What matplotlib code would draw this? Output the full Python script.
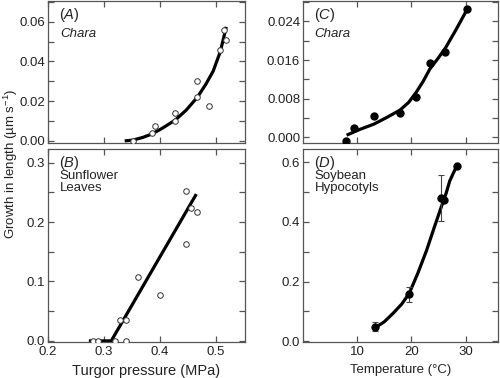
import matplotlib
matplotlib.use("Agg")
import matplotlib.pyplot as plt
from matplotlib.ticker import MultipleLocator, FixedLocator, FormatStrFormatter

plt.rcParams["font.family"] = ["Liberation Sans", "DejaVu Sans"]
plt.rcParams["mathtext.fontset"] = "custom"
plt.rcParams["mathtext.rm"] = "Liberation Sans"
plt.rcParams["mathtext.it"] = "Liberation Sans:italic"

# (A) Chara, growth vs turgor pressure
a_p = [0.352, 0.386, 0.391, 0.4275, 0.4275, 0.467, 0.467, 0.4875, 0.508, 0.514, 0.5185]
a_g = [0.000, 0.004, 0.0074, 0.014, 0.010, 0.030, 0.022, 0.0178, 0.0455, 0.056, 0.051]
a_fit_p = [0.337, 0.352, 0.370, 0.386, 0.405, 0.4275, 0.447, 0.467, 0.482, 0.495, 0.508, 0.5185]
a_fit_g = [0.000, 0.0004, 0.0018, 0.0035, 0.0065, 0.0105, 0.0155, 0.022, 0.0285, 0.035, 0.045, 0.0574]

# (B) Sunflower leaves
b_p = [0.280, 0.290, 0.319, 0.339, 0.329, 0.339, 0.3605, 0.3994, 0.446, 0.446, 0.455, 0.4667]
b_g = [0.0, 0.0, 0.0, 0.0, 0.035, 0.035, 0.108, 0.078, 0.253, 0.1625, 0.224, 0.2175]
b_fit_p = [0.273, 0.313, 0.465]
b_fit_g = [0.0, 0.0, 0.247]

# (C) Chara, growth vs temperature
c_t = [7.9, 9.45, 13.1, 17.9, 20.8, 23.4, 26.3, 30.2]
c_g = [-0.0009, 0.0019, 0.00435, 0.0050, 0.0084, 0.0154, 0.0176, 0.0265]
c_fit_t = [8.05, 10.5, 13.1, 15.5, 17.9, 19.5, 20.9, 22.2, 23.4, 24.9, 26.3, 28.2, 30.2]
c_fit_g = [0.0004, 0.0016, 0.0027, 0.0041, 0.0056, 0.0072, 0.0093, 0.0116, 0.0141, 0.0163, 0.0185, 0.0222, 0.0263]

# (D) Soybean hypocotyls
d_t = [13.3, 19.6, 25.5, 26.0, 28.4]
d_g = [0.048, 0.157, 0.480, 0.475, 0.589]
d_err = [0.015, 0.025, 0.076, 0.0, 0.0]
d_fit_t = [13.3, 15.0, 16.6, 18.2, 19.6, 21.2, 22.8, 24.2, 25.5, 26.4, 27.1, 28.4]
d_fit_g = [0.045, 0.065, 0.093, 0.124, 0.160, 0.228, 0.304, 0.380, 0.449, 0.495, 0.538, 0.589]

temp_ticks = [10, 20, 30]

fig = plt.figure(figsize=(5.0, 3.78), dpi=100)
axA = fig.add_axes([0.096, 0.622, 0.394, 0.376])
axB = fig.add_axes([0.096, 0.095, 0.394, 0.511])
axC = fig.add_axes([0.606, 0.622, 0.390, 0.376])
axD = fig.add_axes([0.606, 0.095, 0.390, 0.511])

line_kw = dict(color="black", lw=2.3, solid_capstyle="butt", zorder=2)
open_kw = dict(ls="none", marker="o", ms=4, mfc="white", mec="#333333", mew=0.7, zorder=3)
fill_kw = dict(ls="none", marker="o", ms=5, mfc="black", mec="black", zorder=3)

axA.plot(a_fit_p, a_fit_g, **line_kw)
axA.plot(a_p, a_g, **open_kw)
axB.plot(b_fit_p, b_fit_g, **line_kw)
axB.plot(b_p, b_g, **open_kw)
axC.plot(c_fit_t, c_fit_g, **line_kw)
axC.plot(c_t, c_g, **fill_kw)
axD.plot(d_fit_t, d_fit_g, **line_kw)
axD.errorbar(d_t, d_g, yerr=d_err, fmt="o", ms=5, color="black",
             ecolor="#444444", elinewidth=0.8, capsize=2.5, capthick=0.8, zorder=3)

for ax in (axA, axB):
    ax.set_xlim(0.2, 0.552)
    ax.xaxis.set_major_locator(MultipleLocator(0.1))
    ax.xaxis.set_major_formatter(FormatStrFormatter("%.1f"))
axA.set_ylim(-0.001, 0.0705)
axA.yaxis.set_major_locator(MultipleLocator(0.02))
axA.yaxis.set_minor_locator(MultipleLocator(0.01))
axA.yaxis.set_major_formatter(FormatStrFormatter("%.2f"))
axA.tick_params(axis="x", labelbottom=False)
axB.set_ylim(-0.002, 0.323)
axB.yaxis.set_major_locator(MultipleLocator(0.1))
axB.yaxis.set_minor_locator(MultipleLocator(0.05))
axB.yaxis.set_major_formatter(FormatStrFormatter("%.1f"))

for ax in (axC, axD):
    ax.set_xlim(0, 36)
    ax.xaxis.set_major_locator(FixedLocator(temp_ticks))
axC.set_ylim(-0.0012, 0.0283)
axC.yaxis.set_major_locator(MultipleLocator(0.008))
axC.yaxis.set_minor_locator(MultipleLocator(0.004))
axC.yaxis.set_major_formatter(FormatStrFormatter("%.3f"))
axC.tick_params(axis="x", labelbottom=False)
axD.set_ylim(-0.003, 0.645)
axD.yaxis.set_major_locator(MultipleLocator(0.2))
axD.yaxis.set_minor_locator(MultipleLocator(0.1))
axD.yaxis.set_major_formatter(FormatStrFormatter("%.1f"))

for ax in (axA, axB, axC, axD):
    for s in ax.spines.values():
        s.set_color("#555555")
        s.set_linewidth(0.9)
    ax.tick_params(which="both", direction="in", top=True, right=True,
                   length=4, width=0.9, color="#555555", labelsize=9.5,
                   labelcolor="#222222", pad=3)
    ax.tick_params(axis="y", pad=2)

# panel letters and captions
panels = [
    (axA, "A", "Chara", True, 0.965, 0.81),
    (axB, "B", "Sunflower\nLeaves", False, 0.975, 0.89),
    (axC, "C", "Chara", True, 0.965, 0.81),
    (axD, "D", "Soybean\nHypocotyls", False, 0.975, 0.89),
]
for ax, lab, sub, italic, y0, y1 in panels:
    ax.text(0.055, y0, r"($\mathit{%s}$)" % lab, transform=ax.transAxes,
            fontsize=10.5, va="top", color="#222222")
    ax.text(0.06, y1, sub, transform=ax.transAxes, fontsize=9.5, va="top",
            style="italic" if italic else "normal", color="#222222", linespacing=0.95)

axB.set_xlabel("Turgor pressure (MPa)", fontsize=10.5, color="#222222", labelpad=4)
axD.set_xlabel("Temperature (°C)", fontsize=9.5, color="#222222", labelpad=4)
fig.text(0.021, 0.566, "Growth in length (µm s$^{-1}$)", rotation=90, fontsize=9.5,
         color="#222222", va="center", ha="center")

plt.savefig("out.png", dpi=100)
